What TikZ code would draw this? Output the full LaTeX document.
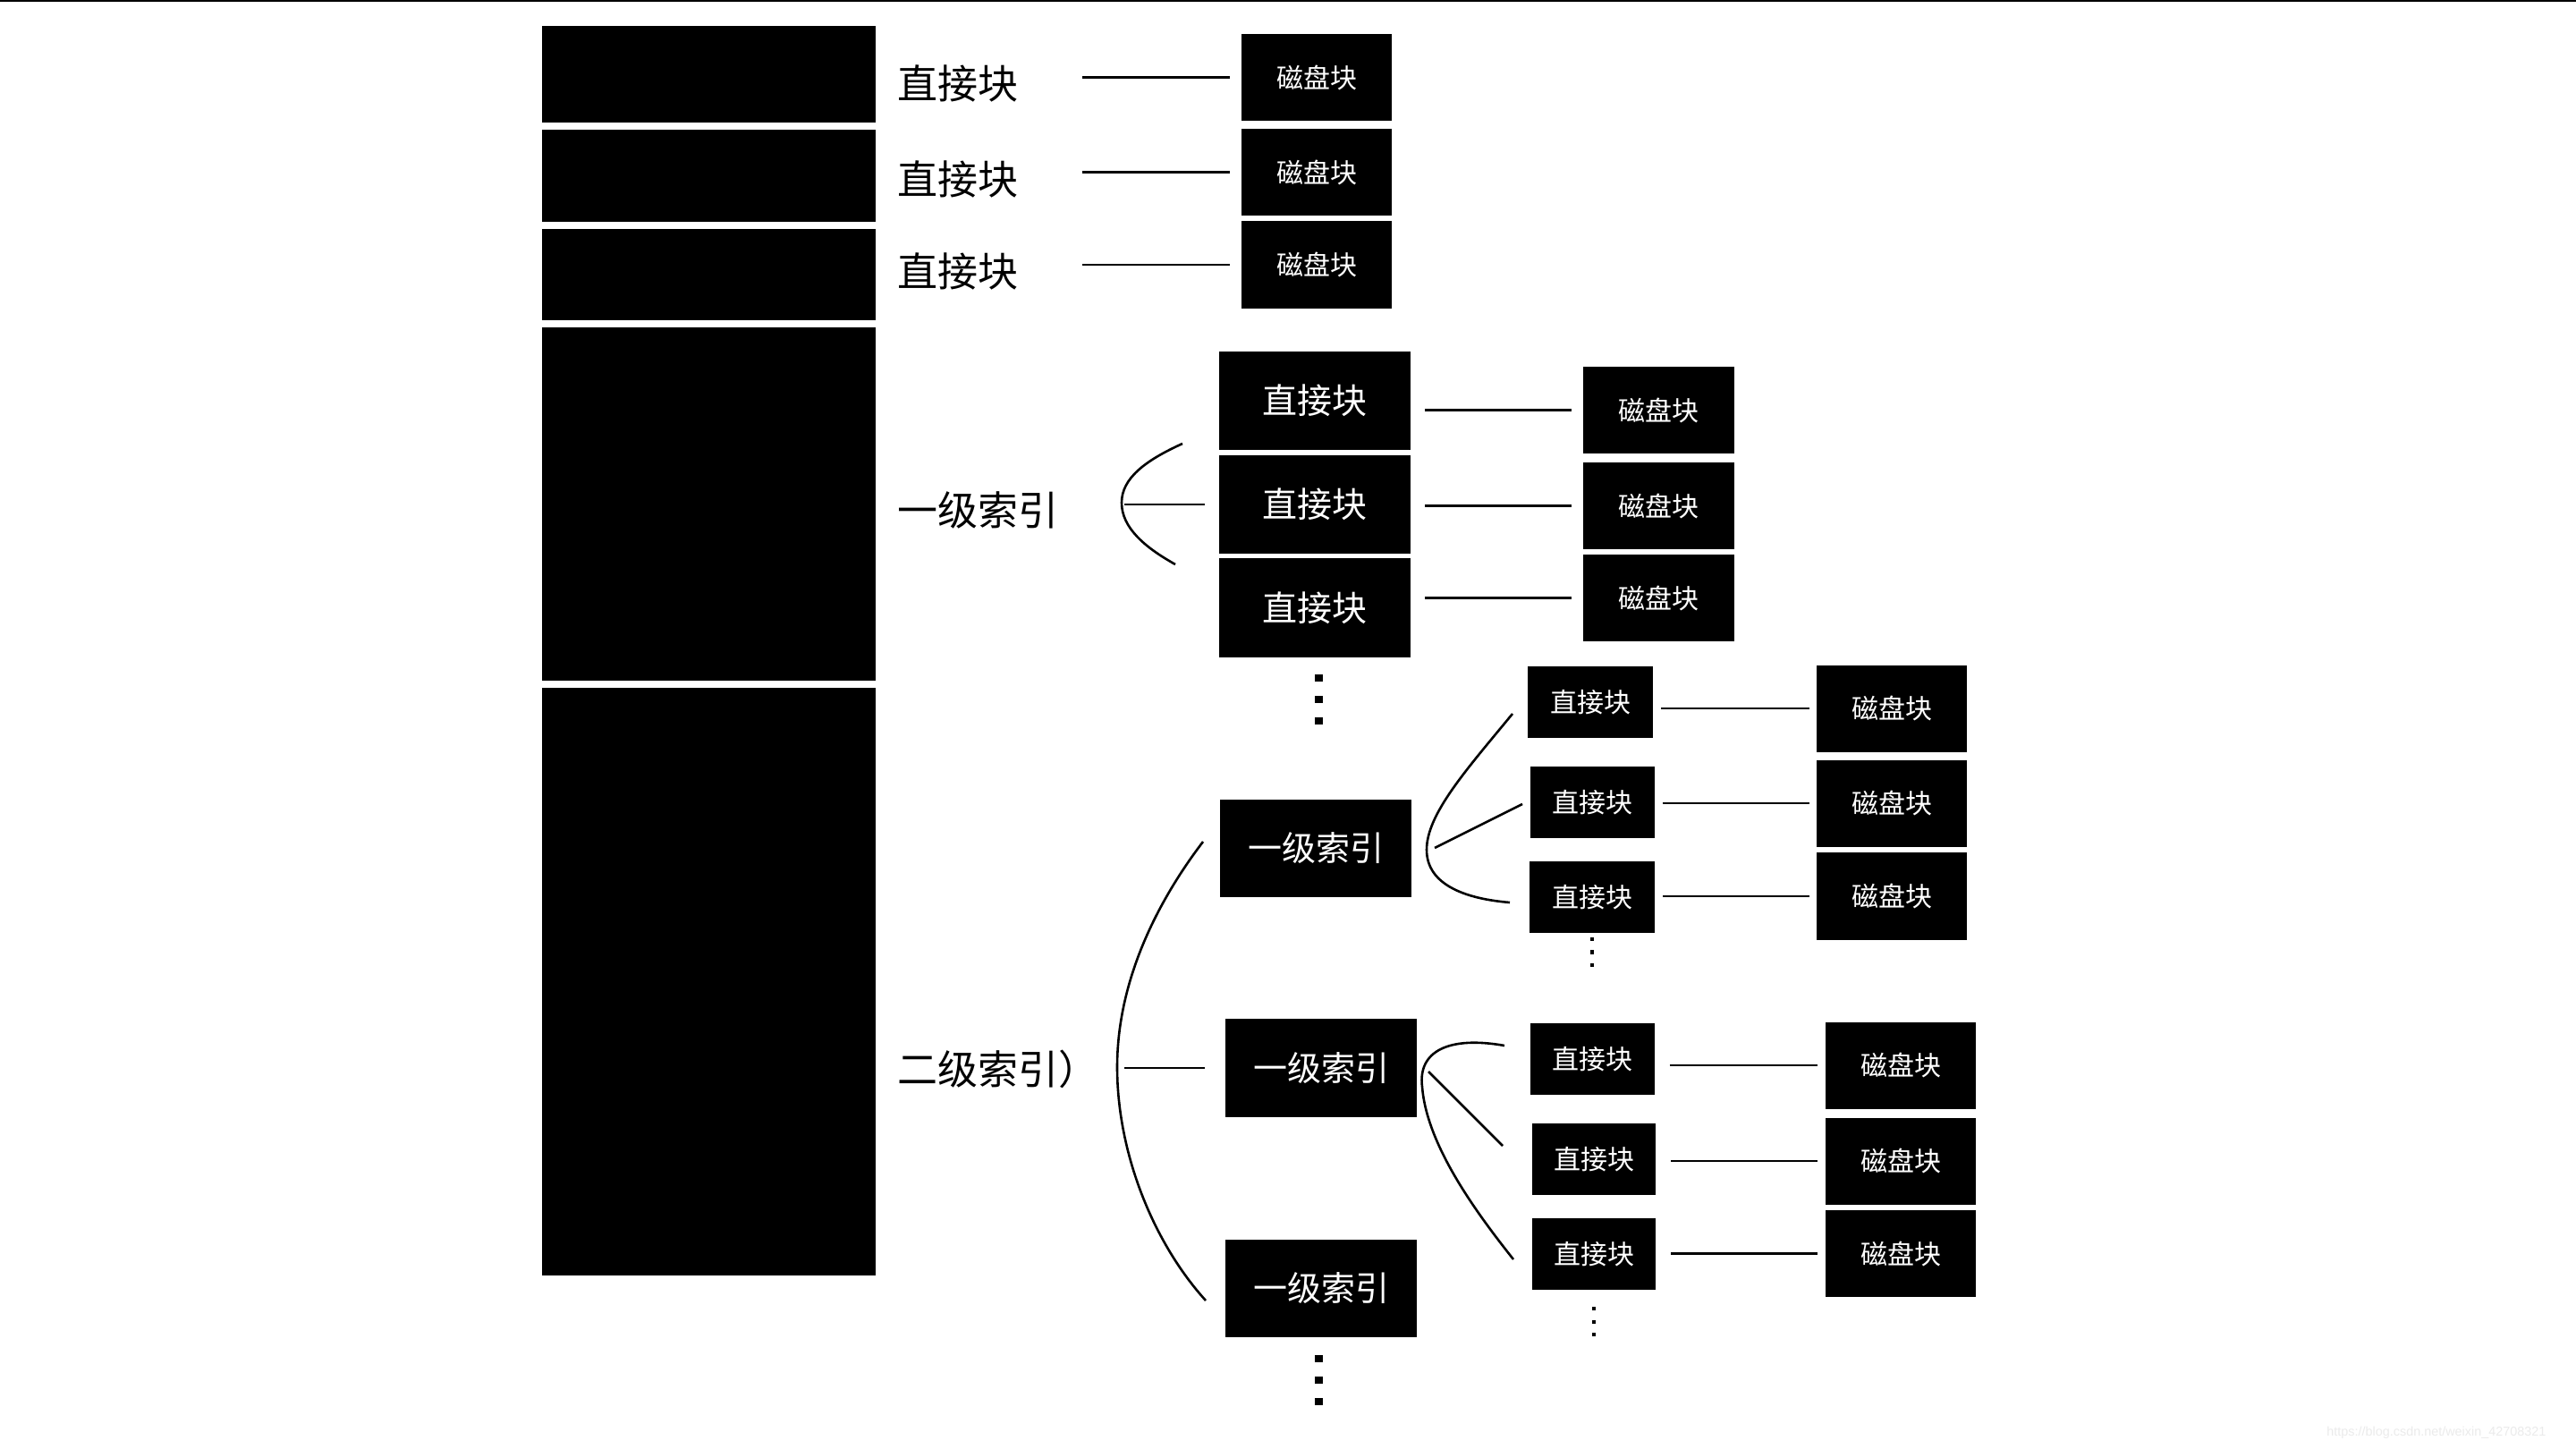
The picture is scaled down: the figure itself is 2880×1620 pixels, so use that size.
\documentclass[tikz,border=0pt]{standalone}
\usepackage{fontspec}
\setmainfont{Liberation Sans}
\newfontfamily\cjk{Noto Sans CJK SC}
\begin{document}
\begin{tikzpicture}[x=0.5pt,y=-0.5pt,
  blk/.style 2 args={fill=black, text=white, inner sep=0pt, minimum width=#1*0.5pt, minimum height=#2*0.5pt},
  lbl/.style={inner sep=0pt, anchor=west, font=\cjk\fontsize{22.5pt}{27pt}\selectfont},
  bigtxt/.style={font=\cjk\fontsize{19.5pt}{23pt}\selectfont},
  idxtxt/.style={font=\cjk\fontsize{19pt}{23pt}\selectfont},
  smalltxt/.style={font=\cjk\fontsize{15pt}{18pt}\selectfont},
  conn/.style={line width=1.3pt},
  dotsq/.style={fill=black}
]
\useasboundingbox (0,0) rectangle (2880,1620);
\fill[white] (0,0) rectangle (2880,1620);
\fill[black] (0,0) rectangle (2880,2.5);

% left column
\node[blk={373}{108}] (c1) at (792.5,83) {};
\node[blk={373}{103}] (c2) at (792.5,196.5) {};
\node[blk={373}{102}] (c3) at (792.5,307) {};
\node[blk={373}{395}] (c4) at (792.5,563.5) {};
\node[blk={373}{657}] (c5) at (792.5,1097.5) {};

% direct blocks (top)
\node[lbl] (l1) at (1003,93) {直接块};
\node[lbl] (l2) at (1003,200) {直接块};
\node[lbl] (l3) at (1003,303) {直接块};
\node[blk={168}{97},smalltxt] (d1) at (1472,86.5) {磁盘块};
\node[blk={168}{97},smalltxt] (d2) at (1472,192.5) {磁盘块};
\node[blk={168}{98},smalltxt] (d3) at (1472,296) {磁盘块};
\foreach \a/\b in {l1/d1,l2/d2,l3/d3}
  \draw[conn, shorten >=6.5pt] (\b.west) ++(-178,0) coordinate (s\b) -- (\b.west);

% level 1 index
\node[lbl] (m1) at (1003,570) {一级索引};
\node[blk={214}{110},bigtxt] (A) at (1470,448) {直接块};
\node[blk={214}{110},bigtxt] (B) at (1470,564) {直接块};
\node[blk={214}{111},bigtxt] (C) at (1470,679.5) {直接块};
\node[blk={169}{97},smalltxt] (e1) at (1854.5,458.5) {磁盘块};
\node[blk={169}{97},smalltxt] (e2) at (1854.5,565.5) {磁盘块};
\node[blk={169}{97},smalltxt] (e3) at (1854.5,668.5) {磁盘块};
\foreach \a/\b in {A/e1,B/e2,C/e3}
  \draw[conn, shorten <=8pt, shorten >=6.5pt] (\a.east |- \b.west) -- (\b.west);
\draw[conn] (1322,496) .. controls (1280,515) and (1254,535) .. (1254,562)
  .. controls (1254,590) and (1280,612) .. (1314,631);
\coordinate (mb) at (1257,564);
\draw[conn, shorten >=8pt] (mb) -- (B.west);
\foreach \y in {758,782,806}
  \fill[dotsq] (1469.5,\y-4) rectangle (1478.5,\y+4);

% level 2 index
\node[lbl] (n1) at (1003,1195) {二级索引）};
\node[blk={214}{109},idxtxt] (P) at (1471,948) {一级索引};
\node[blk={214}{110},idxtxt] (Q) at (1477,1194) {一级索引};
\node[blk={214}{109},idxtxt] (R) at (1477,1440) {一级索引};
\draw[conn] (1345,941) .. controls (1300,1000) and (1249,1090) .. (1249,1193)
  .. controls (1249,1290) and (1290,1390) .. (1348,1454);
\coordinate (nb) at (1257,1194);
\draw[conn, shorten >=11.5pt] (nb) -- (Q.west);
\foreach \y in {1519,1543,1567}
  \fill[dotsq] (1469.5,\y-4) rectangle (1478.5,\y+4);

% sub-index under P
\node[blk={140}{80},smalltxt] (s1) at (1778,785) {直接块};
\node[blk={139}{80},smalltxt] (s2) at (1780,897) {直接块};
\node[blk={140}{80},smalltxt] (s3) at (1780,1003) {直接块};
\node[blk={168}{97},smalltxt] (t1) at (2115,792) {磁盘块};
\node[blk={168}{97},smalltxt] (t2) at (2115,898) {磁盘块};
\node[blk={168}{98},smalltxt] (t3) at (2115,1002) {磁盘块};
\foreach \a/\b in {s1/t1,s2/t2,s3/t3}
  \draw[conn, shorten <=4.5pt, shorten >=4pt] (\a.east |- \b.west) -- (\b.west);
\draw[conn] (1691,798) .. controls (1640,860) and (1595,910) .. (1595,950)
  .. controls (1595,990) and (1640,1005) .. (1688,1009);
\coordinate (pa1) at (1604,948);
\coordinate (pa2) at (1702,899);
\draw[conn] (pa1) -- (pa2);
\foreach \y in {1050,1064.5,1079}
  \fill[dotsq] (1777.8,\y-2.2) rectangle (1782.2,\y+2.2);

% sub-index under Q
\node[blk={139}{80},smalltxt] (u1) at (1780,1184) {直接块};
\node[blk={138}{80},smalltxt] (u2) at (1782,1296) {直接块};
\node[blk={138}{80},smalltxt] (u3) at (1782,1402) {直接块};
\node[blk={168}{97},smalltxt] (v1) at (2125,1191) {磁盘块};
\node[blk={168}{97},smalltxt] (v2) at (2125,1298) {磁盘块};
\node[blk={168}{97},smalltxt] (v3) at (2125,1401.5) {磁盘块};
\foreach \a/\b in {u1/v1,u2/v2,u3/v3}
  \draw[conn, shorten <=8.5pt, shorten >=4.2pt] (\a.east |- \b.west) -- (\b.west);
\draw[conn] (1682,1169) .. controls (1620,1158) and (1585,1175) .. (1590,1215)
  .. controls (1595,1280) and (1650,1355) .. (1692,1408);
\coordinate (pb1) at (1597,1198);
\coordinate (pb2) at (1680,1281);
\draw[conn] (pb1) -- (pb2);
\foreach \y in {1463,1478,1492}
  \fill[dotsq] (1779.8,\y-2.2) rectangle (1784.2,\y+2.2);

% watermark
\node[anchor=base west, inner sep=0pt, text=black!8, font=\fontsize{7.2pt}{8pt}\selectfont] (wm) at (2601,1605) {https://blog.csdn.net/weixin\_42708321};
\end{tikzpicture}
\end{document}
